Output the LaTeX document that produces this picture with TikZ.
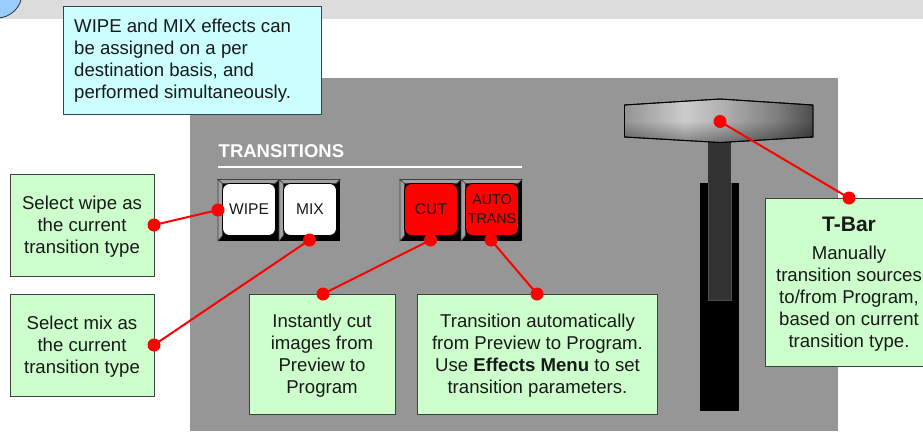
\documentclass[tikz,border=0pt]{standalone}
\usepackage{fontspec}
\setmainfont{Liberation Sans}
\usetikzlibrary{fadings}
\definecolor{panelgray}{HTML}{969696}
\definecolor{bandgray}{HTML}{DCDCDC}
\definecolor{notegreen}{HTML}{CCFFCC}
\definecolor{noteblue}{HTML}{CCFFFF}
\definecolor{discblue}{HTML}{99CCFF}
\definecolor{bevelgray}{HTML}{A0A0A0}
\definecolor{shaftgray}{HTML}{333333}
\definecolor{edgegray}{HTML}{404040}
\pgfdeclarehorizontalshading{tbarshade}{100bp}{
  color(0bp)=(black!42);
  color(25bp)=(black!42);
  color(41bp)=(black!20);
  color(52bp)=(black!32);
  color(65bp)=(black!50);
  color(75bp)=(black!70);
  color(100bp)=(black!70)}
\tikzset{
  x=1pt,y=-1pt,
  notebox/.style={draw=edgegray,line width=0.9pt,fill=notegreen,align=center,inner sep=0pt,
    font=\fontsize{18.6}{22}\selectfont,text=black!90},
  infobox/.style={draw=edgegray,line width=0.9pt,fill=noteblue,align=left,inner sep=0pt,
    font=\fontsize{18.6}{22}\selectfont,text=black!90},
  keycap/.style={draw=black,line width=0.8pt,rounded corners=7pt,minimum width=53pt,minimum height=52pt,
    inner sep=0pt,align=center,text=black!90},
  bevel/.style={fill=bevelgray,draw=black!75,line width=0.7pt},
  dot/.style={circle,fill=red,draw=none,minimum size=13pt,inner sep=0pt},
  leader/.style={draw=red,line width=2pt},
  whitekey/.style={keycap,fill=white,font=\fontsize{15.6}{19}\selectfont},
  redkey/.style={keycap,fill=red,font=\fontsize{15.6}{19}\selectfont},
  smallkey/.style={keycap,fill=red,font=\fontsize{14.3}{19}\selectfont},
}
\newcommand{\liftline}[1]{\rule{0pt}{#1pt}}
% bezel of one key: left edge x
\newcommand{\keybezel}[1]{%
  \fill[black] (#1,179.5) rectangle ++(61,61.5);
  \filldraw[bevel] (#1,179.5) -- ++(61,0) -- ++(-4,4) -- ++(-53,0) -- cycle;
  \filldraw[bevel] (#1,179.5) -- ++(4.5,4) -- ++(0,52) -- ++(-4.5,5.5) -- cycle;
}
\begin{document}
\begin{tikzpicture}
\clip (0,0) rectangle (923,431);
\fill[white] (0,0) rectangle (923,431);
% header band and disc
\fill[bandgray] (0,0) rectangle (923,19);
\filldraw[fill=discblue,draw=black!80,line width=0.8pt] (-3,-7) circle[radius=25];
% panel
\fill[panelgray] (190,78) rectangle (838,431);
% note at top
\node[infobox,minimum width=258pt,minimum height=108pt] (note) at (192.5,60) {};
\node[anchor=west,align=left,inner sep=0pt,font=\fontsize{18.6}{22}\selectfont,text=black!90,yshift=-1pt] (notetext) at (74,60)
  {WIPE and MIX effects can\\be assigned on a per\\destination basis, and\\performed simultaneously.};
% heading
\node[anchor=base west,inner sep=0pt,text=white,font=\fontsize{18.5}{22}\selectfont\bfseries] (head) at (218.5,157) {TRANSITIONS};
\coordinate (ruleL) at (218,167);
\coordinate (ruleR) at (522,167);
\draw[white,line width=1.4pt] (ruleL) -- (ruleR);
% keys
\keybezel{218}\keybezel{279}\keybezel{400}\keybezel{461}
\node[whitekey] (wipe) at (249,209.5) {WIPE};
\node[whitekey] (mix) at (310,209.5) {MIX};
\node[redkey] (cut) at (431,209.5) {CUT};
\node[smallkey] (auto) at (492,209.5) {AUTO\\TRANS};
% T-bar
\fill[black] (700,183) rectangle (739,411);
\fill[shaftgray] (708,140) rectangle (731,300);
\draw[black!70,line width=0.5pt] (708,183) -- (708,300) -- (731,300) -- (731,183);
\path[shading=tbarshade,draw=black,line width=0.9pt] (624.5,105) -- (720,99) -- (813,105) -- (813,137) -- (720,142.5) -- (624.5,137) -- cycle;
\fill[black,path fading=north,opacity=0.35] (625,121) -- (812.5,121) -- (812.5,136.7) -- (720,142) -- (625,136.7) -- cycle;
\draw[black,line width=0.9pt] (624.5,105) -- (720,99) -- (813,105) -- (813,137) -- (720,142.5) -- (624.5,137) -- cycle;
% callouts
\node[notebox,minimum width=144pt,minimum height=102pt] (bwipe) at (82,225) {\liftline{17}Select wipe as\\the current\\transition type};
\node[notebox,minimum width=144pt,minimum height=102pt] (bmix) at (82,345) {\liftline{17}Select mix as\\the current\\transition type};
\node[notebox,minimum width=146pt,minimum height=120pt] (bcut) at (322,354) {\liftline{17}Instantly cut\\images from\\Preview to\\Program};
\node[notebox,minimum width=240pt,minimum height=120pt] (bauto) at (537.5,354) {\liftline{17}Transition automatically\\from Preview to Program.\\Use \textbf{Effects Menu} to set\\transition parameters.};
\node[notebox,minimum width=168pt,minimum height=168pt] (bbar) at (849,282) {{\fontsize{21}{30}\selectfont\bfseries\liftline{18}T-Bar}\\[6pt]Manually\\transition sources\\to/from Program,\\based on current\\transition type.};
% dots
\node[dot] (dwipe) at (218,210) {};
\node[dot] (dmix) at (309.5,240) {};
\node[dot] (dcut) at (430.5,240) {};
\node[dot] (dauto) at (491,240) {};
\node[dot] (dbar) at (720,121.5) {};
\node[dot] (ewipe) at (154,225) {};
\node[dot] (emix) at (154,345) {};
\node[dot] (ecut) at (323,294) {};
\node[dot] (eauto) at (537,294) {};
\node[dot] (ebar) at (849,198) {};
% leaders
\draw[leader] (ewipe.center) -- (dwipe.center);
\draw[leader] (emix.center) -- (dmix.center);
\draw[leader] (ecut.center) -- (dcut.center);
\draw[leader] (eauto.center) -- (dauto.center);
\draw[leader] (ebar.center) -- (dbar.center);
\end{tikzpicture}
\end{document}
